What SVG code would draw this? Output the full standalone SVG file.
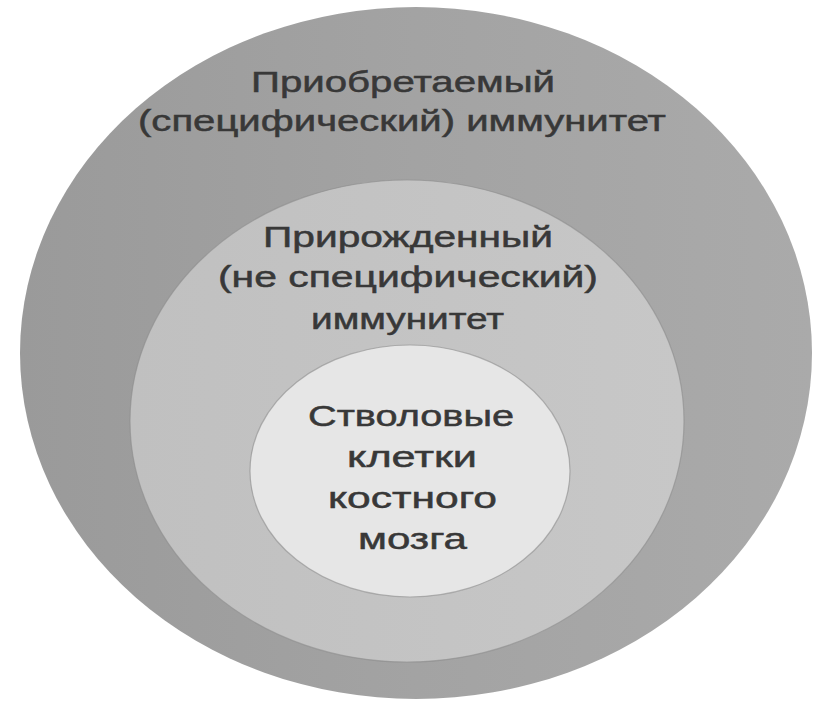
<svg xmlns="http://www.w3.org/2000/svg" width="819" height="706" viewBox="0 0 819 706">
  <defs>
    <linearGradient id="gOuter" x1="0" y1="0" x2="1" y2="0">
      <stop offset="0" stop-color="#9a9a9a"/>
      <stop offset="0.5" stop-color="#a3a3a3"/>
      <stop offset="1" stop-color="#aaaaaa"/>
    </linearGradient>
    <linearGradient id="gMiddle" x1="0" y1="0" x2="1" y2="0">
      <stop offset="0" stop-color="#c0c0c0"/>
      <stop offset="1" stop-color="#c7c7c7"/>
    </linearGradient>
    <style>
      .lbl { font-family: "Liberation Sans", Arial, sans-serif; font-size: 30px; fill: #383838; stroke: #383838; stroke-width: 0.5; }
      .ring { stroke: #8c8c8c; stroke-width: 1.2; stroke-opacity: 0.6; }
    </style>
  </defs>
  <rect width="819" height="706" fill="#ffffff"/>
  <g id="outer">
    <ellipse cx="416" cy="353" rx="396" ry="346" fill="url(#gOuter)"/>
    <text class="lbl" x="251" y="92" textLength="304" lengthAdjust="spacingAndGlyphs">Приобретаемый</text>
    <text class="lbl" x="138" y="131" textLength="528" lengthAdjust="spacingAndGlyphs">(специфический) иммунитет</text>
  </g>
  <g id="middle">
    <ellipse class="ring" cx="407" cy="421" rx="277" ry="241" fill="url(#gMiddle)"/>
    <text class="lbl" x="263" y="247" textLength="290" lengthAdjust="spacingAndGlyphs">Прирожденный</text>
    <text class="lbl" x="218" y="287" textLength="380" lengthAdjust="spacingAndGlyphs">(не специфический)</text>
    <text class="lbl" x="311" y="329" textLength="193" lengthAdjust="spacingAndGlyphs">иммунитет</text>
  </g>
  <g id="inner">
    <ellipse class="ring" cx="410" cy="471" rx="160" ry="126" fill="#e6e6e6"/>
    <text class="lbl" x="308" y="426" textLength="206" lengthAdjust="spacingAndGlyphs">Стволовые</text>
    <text class="lbl" x="347" y="467" textLength="130" lengthAdjust="spacingAndGlyphs">клетки</text>
    <text class="lbl" x="328" y="508" textLength="169" lengthAdjust="spacingAndGlyphs">костного</text>
    <text class="lbl" x="358" y="549" textLength="109" lengthAdjust="spacingAndGlyphs">мозга</text>
  </g>
  <g id="connectors"/>
</svg>
